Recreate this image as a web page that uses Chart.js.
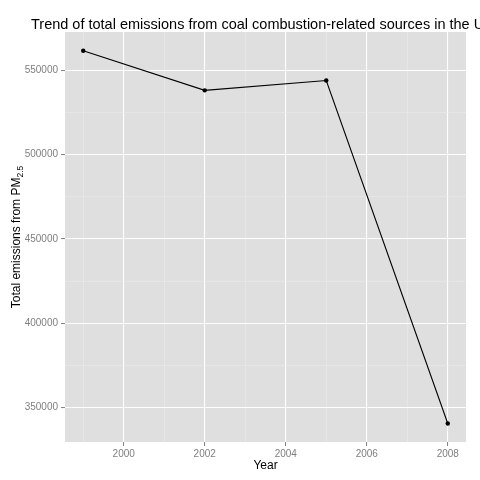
<!DOCTYPE html>
<html>
<head>
<meta charset="utf-8">
<script src="https://cdn.jsdelivr.net/npm/chart.js@4"></script>
<style>
  html, body { margin: 0; padding: 0; background: #fff; }
  #wrap { width: 480px; height: 480px; }
</style>
</head>
<body>
<div id="wrap"><canvas id="emissionsChart"></canvas></div>
<script>
// --- Données ---
const years = [1999, 2002, 2005, 2008];
const emissions = [561600, 538100, 543900, 340500];
const xMajorTicks = [2000, 2002, 2004, 2006, 2008];
const xMinorTicks = [1999, 2001, 2003, 2005, 2007];
const yMajorTicks = [350000, 400000, 450000, 500000, 550000];
const yMinorTicks = [375000, 425000, 475000, 525000];

const chartTitle = 'Trend of total emissions from coal combustion-related sources in the U';
const xTitle = 'Year';
const yTitle = 'Total emissions from PM';
const yTitleSub = '2.5';

const FONT = '"Liberation Sans", Arial, Helvetica, sans-serif';
const panelColor = '#DFDFDF';
const minorGrid = '#EBEBEB';

// ticks majeurs + mineurs, triés
const buildTicks = (major, minor) => major.concat(minor).sort((a, b) => a - b).map(v => ({ value: v }));

// fond gris du panneau + textes (titre, titres d'axes)
const ggPlugin = {
    id: 'ggDecor',
    beforeDraw(chart) {
        const { ctx, chartArea: a } = chart;
        ctx.save();
        ctx.fillStyle = panelColor;
        ctx.fillRect(a.left, a.top, a.right - a.left, a.bottom - a.top);
        ctx.restore();
    },
    afterDraw(chart) {
        const { ctx, chartArea: a } = chart;
        ctx.save();
        ctx.fillStyle = '#000';
        ctx.textBaseline = 'alphabetic';

        // titre principal (coupé à droite comme l'original)
        ctx.font = '14.5px ' + FONT;
        ctx.textAlign = 'left';
        ctx.fillText(chartTitle, 31, 29);

        // titre axe X
        ctx.font = '12px ' + FONT;
        ctx.textAlign = 'center';
        ctx.fillText(xTitle, (a.left + a.right) / 2, 469);

        // titre axe Y avec indice
        ctx.translate(20, (a.top + a.bottom) / 2);
        ctx.rotate(-Math.PI / 2);
        ctx.font = '12px ' + FONT;
        const w1 = ctx.measureText(yTitle).width;
        ctx.font = '8.5px ' + FONT;
        const w2 = ctx.measureText(yTitleSub).width;
        const start = -(w1 + w2) / 2;
        ctx.textAlign = 'left';
        ctx.font = '12px ' + FONT;
        ctx.fillText(yTitle, start, 0);
        ctx.font = '8.5px ' + FONT;
        ctx.fillText(yTitleSub, start + w1, 3);
        ctx.restore();
    }
};

const ctx = document.getElementById('emissionsChart');
new Chart(ctx, {
    type: 'line',
    data: {
        datasets: [{
            data: years.map((y, i) => ({ x: y, y: emissions[i] })),
            borderColor: '#000',
            borderWidth: 1.1,
            backgroundColor: '#000',
            pointRadius: 2.2,
            pointHoverRadius: 2.2,
            pointBorderWidth: 0,
            tension: 0,
            fill: false
        }]
    },
    options: {
        responsive: true,
        maintainAspectRatio: false,
        animation: false,
        events: [],
        layout: { padding: { left: 0, right: 14, top: 32, bottom: 0 } },
        plugins: {
            legend: { display: false },
            title: { display: false },
            tooltip: { enabled: false }
        },
        scales: {
            x: {
                type: 'linear',
                min: 1998.55,
                max: 2008.45,
                afterBuildTicks: s => { s.ticks = buildTicks(xMajorTicks, xMinorTicks); },
                afterFit: s => { s.height = 38; },
                border: { display: false },
                grid: {
                    color: c => xMajorTicks.includes(c.tick.value) ? '#FFFFFF' : minorGrid,
                    lineWidth: c => xMajorTicks.includes(c.tick.value) ? 1.1 : 0.6,
                    tickColor: c => xMajorTicks.includes(c.tick.value) ? '#7F7F7F' : 'rgba(0,0,0,0)',
                    tickLength: 4,
                    tickWidth: 1
                },
                ticks: {
                    autoSkip: false,
                    maxRotation: 0,
                    padding: 2,
                    color: '#7F7F7F',
                    font: { family: FONT, size: 10 },
                    callback: v => xMajorTicks.includes(v) ? String(v) : ''
                }
            },
            y: {
                type: 'linear',
                min: 329500,
                max: 572700,
                afterBuildTicks: s => { s.ticks = buildTicks(yMajorTicks, yMinorTicks); },
                afterFit: s => { s.width = 65; },
                border: { display: false },
                grid: {
                    color: c => yMajorTicks.includes(c.tick.value) ? '#FFFFFF' : minorGrid,
                    lineWidth: c => yMajorTicks.includes(c.tick.value) ? 1.1 : 0.6,
                    tickColor: c => yMajorTicks.includes(c.tick.value) ? '#7F7F7F' : 'rgba(0,0,0,0)',
                    tickLength: 4,
                    tickWidth: 1
                },
                ticks: {
                    autoSkip: false,
                    padding: 3,
                    color: '#7F7F7F',
                    font: { family: FONT, size: 10 },
                    callback: v => yMajorTicks.includes(v) ? String(v) : ''
                }
            }
        }
    },
    plugins: [ggPlugin]
});
</script>
</body>
</html>
